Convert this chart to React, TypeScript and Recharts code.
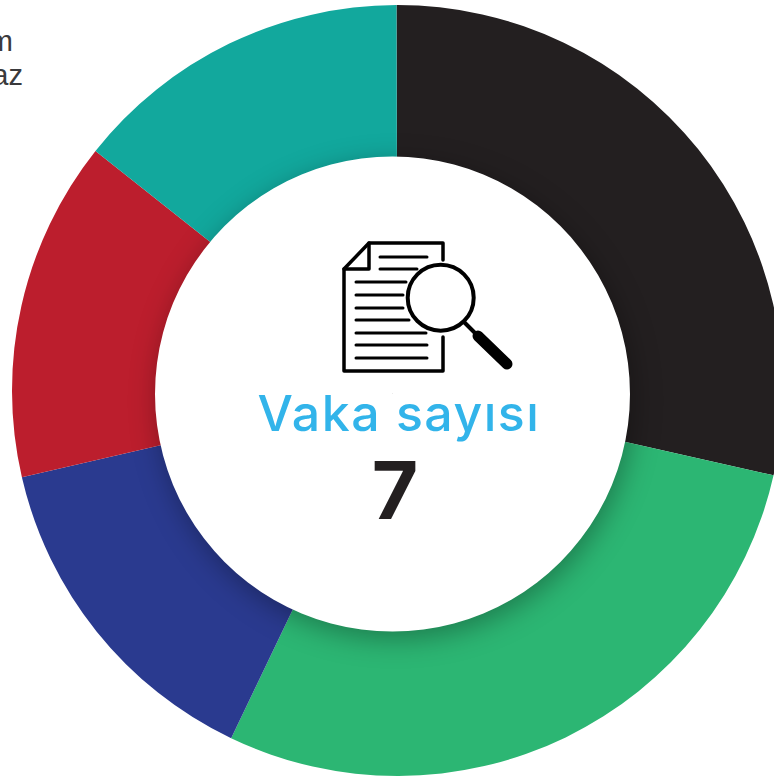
import React from "react";
import { PieChart, Pie, Cell } from "recharts";

const categories = ["Grup A", "Grup B", "Grup C", "Grup D", "Grup E"];
const caseCounts = [2, 2, 1, 1, 1];
const sliceColors = ["#231f20", "#2cb673", "#2a3a8f", "#bc1e2d", "#12a89d"];
const totalLabel = "Vaka sayısı";
const totalCases = [7];
const legendFragments = ["m", "az"];

const sliceData = categories.map((name, i) => ({ name, value: caseCounts[i] }));
const centerData = totalCases.map((value) => ({ name: totalLabel, value }));

const docLines: [number, number, number][] = [
  [380, 427, 257], [380, 417, 269], [356, 406, 282], [356, 403, 295],
  [356, 403, 308], [356, 409, 320], [356, 426, 333], [356, 427, 345], [356, 427, 358],
];

function Icon() {
  return (
    <g fill="none" stroke="#000" strokeLinecap="round" strokeLinejoin="round">
      <path d="M443 260 V243 H369 L344 269 V371 H443 V337" strokeWidth={3.5} />
      <path d="M369 243 V269 H344" strokeWidth={3.5} />
      {docLines.map(([a, b, y]) => (
        <line key={y} x1={a} x2={b} y1={y} y2={y} strokeWidth={3} />
      ))}
      <circle cx={440.7} cy={297.7} r={33} strokeWidth={4} fill="#fff" />
      <line x1={465} y1={323} x2={477} y2={335} strokeWidth={4} />
      <line x1={478} y1={336} x2={507} y2={364} strokeWidth={11} />
    </g>
  );
}

export default function App() {
  return (
    <div style={{ position: "absolute", left: 0, top: 0, width: 774, height: 776, overflow: "hidden" }}>
      <PieChart width={774} height={776} margin={{ top: 0, right: 0, bottom: 0, left: 0 }}>
        <Pie
          data={sliceData}
          dataKey="value"
          nameKey="name"
          cx={397.5}
          cy={390.5}
          innerRadius={200}
          outerRadius={385.5}
          startAngle={90.15}
          endAngle={-269.85}
          stroke="none"
          isAnimationActive={false}
        >
          {sliceData.map((d, i) => (
            <Cell key={d.name} fill={sliceColors[i]} />
          ))}
        </Pie>
        <Pie
          data={centerData}
          dataKey="value"
          cx={392.5}
          cy={394}
          innerRadius={0}
          outerRadius={237.5}
          startAngle={90}
          endAngle={-270}
          fill="#fff"
          stroke="none"
          isAnimationActive={false}
          style={{ filter: "drop-shadow(3px 7px 14px rgba(0,0,0,0.32))" }}
        />
      </PieChart>
      <svg width={774} height={776} style={{ position: "absolute", left: 0, top: 0 }}>
        <Icon />
        <text x={399} y={431} textAnchor="middle" fontFamily="Inter, sans-serif" fontWeight={500} fontSize={50} letterSpacing={1.5} fill="#32b4ea">
          {totalLabel}
        </text>
        <text x={395} y={519} textAnchor="middle" fontFamily="Inter, sans-serif" fontWeight={700} fontSize={80} fill="#231f20">
          {totalCases[0]}
        </text>
        <text x={13} y={51} textAnchor="end" fontFamily="Liberation Sans, sans-serif" fontSize={29} fill="#3a3a3c">
          {legendFragments[0]}
        </text>
        <text x={23} y={85} textAnchor="end" fontFamily="Liberation Sans, sans-serif" fontSize={29} fill="#3a3a3c">
          {legendFragments[1]}
        </text>
      </svg>
    </div>
  );
}
